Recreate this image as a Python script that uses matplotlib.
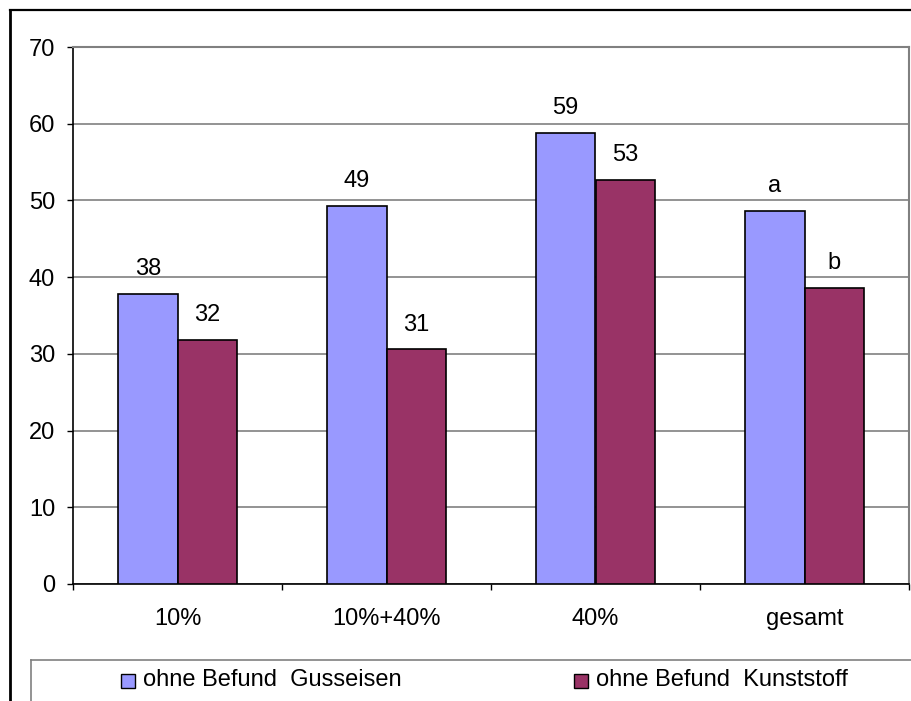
import numpy as np
import matplotlib
matplotlib.use('Agg')
import matplotlib.pyplot as plt
from matplotlib.lines import Line2D
from matplotlib.patches import Rectangle

plt.rcParams['font.family'] = ['Liberation Sans', 'DejaVu Sans']

# data
categories = ['10%', '10%+40%', '40%', 'gesamt']
series_names = ['ohne Befund  Gusseisen', 'ohne Befund  Kunststoff']
gusseisen = [37.8, 49.3, 58.8, 48.6]
kunststoff = [31.8, 30.6, 52.7, 38.6]
labels_guss = ['38', '49', '59', 'a']
labels_kunst = ['32', '31', '53', 'b']
colors = ['#9999FF', '#993366']
yticks = [0, 10, 20, 30, 40, 50, 60, 70]

W, H = 912, 701
fig = plt.figure(figsize=(W / 100, H / 100), dpi=100)
fs = 17

def px(x, y):
    # pixel coords (from top left) -> figure fraction
    return x / W, 1 - y / H

# plot area from x=73..909, y=47..584 px
l, b = px(73, 584)
r, t = px(909, 47)
ax = fig.add_axes([l, b, r - l, t - b])

x = np.arange(len(categories))
bw = 0.285
b1 = ax.bar(x - bw / 2, gusseisen, bw, color=colors[0], edgecolor='black', linewidth=1.2, zorder=3)
b2 = ax.bar(x + bw / 2, kunststoff, bw, color=colors[1], edgecolor='black', linewidth=1.2, zorder=3)

for bars, labs in [(b1, labels_guss), (b2, labels_kunst)]:
    for rect, lab in zip(bars, labs):
        ax.annotate(lab, (rect.get_x() + rect.get_width() / 2, rect.get_height()),
                    xytext=(0, 13.5), textcoords='offset points',
                    ha='center', va='baseline', fontsize=fs)

ax.set_xlim(-0.5, len(categories) - 0.5)
ax.set_ylim(0, 70)
ax.set_yticks(yticks)
ax.set_yticklabels([str(v) for v in yticks])
ax.yaxis.grid(True, color='#808080', linewidth=1.2, zorder=0)
ax.set_axisbelow(True)

# category boundaries carry the ticks, labels sit at the centres
ax.set_xticks(np.arange(len(categories) + 1) - 0.5)
ax.set_xticklabels([])
ax.set_xticks(x, minor=True)
ax.set_xticklabels(categories, minor=True, fontsize=fs)
ax.tick_params(axis='x', which='minor', length=0, pad=17)
ax.tick_params(axis='x', which='major', length=4.3, width=1, color='black', direction='out')
ax.tick_params(axis='y', length=4.3, width=1, direction='out', pad=8.6, labelsize=fs)

for s in ['left', 'bottom']:
    ax.spines[s].set_color('black')
    ax.spines[s].set_linewidth(1.2)
for s in ['top', 'right']:
    ax.spines[s].set_color('#808080')
    ax.spines[s].set_linewidth(1.5)

# outer chart frame (only top and left edges show)
fig.add_artist(Line2D([10 / W, 1], [1 - 10 / H] * 2, color='black', linewidth=1.6))
fig.add_artist(Line2D([10 / W] * 2, [0, 1 - 10 / H], color='black', linewidth=2.0))

# legend box
fig.add_artist(Line2D([31 / W, 1], [1 - 660 / H] * 2, color='#808080', linewidth=1.2))
fig.add_artist(Line2D([31 / W] * 2, [0, 1 - 660 / H], color='#808080', linewidth=1.2))

leg_x = [121, 574]
for lx, name, c in zip(leg_x, series_names, colors):
    x0, y0 = px(lx, 688)
    fig.add_artist(Rectangle((x0, y0), 14 / W, 14 / H, facecolor=c,
                             edgecolor='black', linewidth=1.0, transform=fig.transFigure))
    tx, ty = px(lx + 22, 686)
    fig.text(tx, ty, name, ha='left', va='baseline', fontsize=fs)

fig.savefig('out.png', dpi=100)
